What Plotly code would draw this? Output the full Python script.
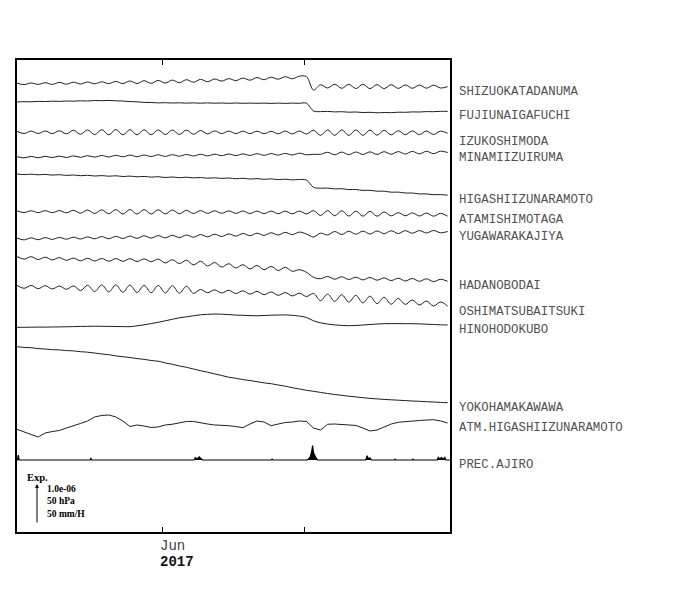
import plotly.graph_objects as go
from datetime import datetime, timedelta

# ---------------- data ----------------
T_START = datetime(2017, 5, 1)
T_END = datetime(2017, 8, 1)
SAMPLE_STEP_DAYS = 1.5          # regular sampling of the traces
N_SAMPLES = 62

STATIONS = ["SHIZUOKATADANUMA", "FUJIUNAIGAFUCHI", "IZUKOSHIMODA", "MINAMIIZUIRUMA",
            "HIGASHIIZUNARAMOTO", "ATAMISHIMOTAGA", "YUGAWARAKAJIYA", "HADANOBODAI",
            "OSHIMATSUBAITSUKI", "HINOHODOKUBO", "YOKOHAMAKAWAWA",
            "ATM.HIGASHIIZUNARAMOTO", "PREC.AJIRO"]

# strain changes, unit = 2.5e-8 (40 units = 1.0e-06)
SHIZUOKATADANUMA = [0.8, -0.6, 1.0, -0.4, 1.3, -0.4, 1.6, -0.2, 1.8, 0.0,
                    2.0, 0.2, 2.2, 0.4, 2.6, 0.4, 3.0, 0.5, 3.3, 0.7,
                    3.6, 0.9, 3.9, 1.3, 4.3, 1.8, 4.6, 2.3, 5.0, 2.9,
                    5.4, 3.4, 5.9, 3.8, 6.4, 4.3, 6.8, 4.8, 7.3, 5.2,
                    7.8, 7.4, -6.0, -0.8, -4.0, -0.3, -4.3, -0.4, -4.5, -0.4,
                    -4.6, -0.6, -4.6, -0.7, -4.4, -0.9, -4.3, -1.0, -4.2, -1.2,
                    -4.0, -2.6]
FUJIUNAIGAFUCHI = [0.0, 0.3, 0.2, 0.6, 0.4, 0.8, 0.6, 1.0, 0.8, 1.2,
                   1.0, 1.5, 1.3, 1.6, 1.2, 1.0, 0.4, 0.2, -0.4, -0.5,
                   -0.9, -0.7, -1.0, -0.8, -1.1, -0.9, -1.2, -0.9, -1.2, -1.0,
                   -1.3, -1.0, -1.3, -1.1, -1.3, -1.1, -1.4, -1.1, -1.4, -1.1,
                   -1.3, -1.2, -9.0, -9.6, -9.4, -9.9, -9.7, -10.2, -10.0, -10.5,
                   -10.3, -10.8, -10.5, -10.7, -10.2, -10.3, -9.9, -10.0, -9.6, -9.7,
                   -9.3, -9.4]
IZUKOSHIMODA = [1.0, -1.2, 1.2, -1.2, 1.3, -1.3, 1.5, -1.5, 2.0, -2.0,
                2.4, -2.3, 2.6, -2.5, 2.8, -2.6, 2.7, -2.6, 2.6, -2.4,
                2.4, -2.3, 2.3, -2.2, 2.2, -2.0, 1.8, -1.6, 1.4, -1.3,
                1.2, -1.3, 1.1, -1.3, 1.1, -1.4, 1.0, -1.5, 1.2, -1.6,
                1.3, -1.7, 2.0, -3.0, 2.4, -3.1, 2.5, -3.2, 2.4, -3.1,
                2.2, -2.9, 2.0, -2.6, 1.6, -2.4, 1.4, -2.3, 1.3, -2.2,
                1.2, -1.0]
MINAMIIZUIRUMA = [0.7, -0.6, 0.9, -0.5, 1.0, -0.3, 1.2, -0.2, 1.4, 0.0,
                  1.6, 0.2, 1.8, 0.3, 2.0, 0.5, 2.2, 0.6, 2.3, 0.8,
                  2.5, 0.9, 2.6, 1.1, 2.8, 1.3, 3.0, 1.4, 3.1, 1.6,
                  3.3, 1.7, 3.4, 1.9, 3.6, 2.0, 3.7, 2.2, 3.9, 2.3,
                  4.1, 2.5, 3.0, 3.0, 5.0, 2.5, 5.2, 2.6, 5.3, 2.8,
                  5.4, 2.9, 5.6, 3.1, 5.7, 3.3, 5.9, 3.4, 6.0, 3.6,
                  6.1, 4.8]
HIGASHIIZUNARAMOTO = [0.3, -0.3, 0.1, -0.5, -0.1, -0.8, -0.4, -1.1, -0.7, -1.4,
                      -1.0, -1.7, -1.3, -1.9, -1.5, -2.2, -1.8, -2.5, -2.1, -2.8,
                      -2.4, -3.2, -2.7, -3.4, -2.9, -3.6, -3.2, -3.9, -3.5, -4.1,
                      -3.7, -4.4, -4.0, -4.7, -4.3, -5.0, -4.6, -5.3, -4.9, -5.6,
                      -5.2, -5.8, -13.0, -13.9, -13.8, -14.6, -14.4, -15.3, -15.2, -16.1,
                      -16.0, -16.9, -16.9, -17.9, -17.8, -18.7, -18.7, -19.6, -19.6, -20.4,
                      -20.3, -20.9]
ATAMISHIMOTAGA = [0.8, -0.8, 0.9, -0.9, 1.0, -1.0, 1.1, -1.1, 1.4, -1.5,
                  1.7, -1.8, 1.9, -2.0, 2.1, -2.3, 2.2, -2.4, 2.1, -2.3,
                  1.9, -2.2, 1.7, -2.0, 1.4, -1.8, 1.1, -1.6, 0.9, -1.6,
                  0.8, -1.7, 0.7, -1.8, 0.6, -1.9, 0.6, -2.0, 0.5, -2.1,
                  0.6, -2.2, 1.1, -3.8, 1.1, -4.1, 1.0, -4.4, 0.6, -4.5,
                  0.3, -4.5, -0.3, -4.2, -1.0, -4.1, -1.2, -4.3, -1.4, -4.5,
                  -1.6, -4.5]
YUGAWARAKAJIYA = [0.9, -0.9, 1.1, -0.7, 1.4, -0.4, 1.6, -0.2, 1.8, 0.0,
                  2.1, 0.2, 2.4, 0.3, 2.6, 0.5, 2.9, 0.7, 3.2, 0.9,
                  3.4, 1.1, 3.7, 1.4, 4.0, 1.8, 4.4, 2.2, 4.8, 2.5,
                  5.1, 2.9, 5.5, 3.3, 5.8, 3.6, 6.2, 4.0, 6.6, 4.4,
                  6.9, 5.0, 2.0, 5.8, 4.0, 7.5, 4.5, 7.8, 4.8, 7.9,
                  5.0, 8.0, 5.3, 8.2, 5.5, 8.3, 5.8, 8.4, 6.0, 8.5,
                  6.2, 7.5]
HADANOBODAI = [1.2, -1.4, 1.0, -1.8, 0.5, -2.2, 0.1, -2.6, -0.4, -3.1,
               -0.6, -3.3, -0.8, -3.5, -0.9, -3.6, -1.0, -3.8, -1.2, -4.0,
               -1.4, -5.3, -2.0, -5.9, -2.6, -7.2, -3.6, -8.3, -4.8, -9.4,
               -6.0, -10.3, -7.0, -11.2, -7.8, -12.0, -8.7, -12.8, -9.6, -13.6,
               -12.0, -14.6, -19.6, -21.0, -18.8, -21.5, -19.1, -21.8, -19.5, -22.2,
               -19.8, -22.5, -20.2, -22.9, -20.5, -23.3, -20.8, -23.6, -21.1, -23.9,
               -21.6, -23.6]
OSHIMATSUBAITSUKI = [1.3, -1.6, 1.2, -2.0, 1.0, -2.3, 0.7, -2.6, 0.8, -3.9,
                     1.5, -4.8, 1.8, -5.2, 1.8, -5.5, 1.6, -5.8, 1.4, -6.0,
                     1.2, -6.3, 0.9, -6.5, 0.4, -6.7, -2.8, -6.0, -3.2, -6.3,
                     -3.5, -6.8, -4.1, -7.4, -4.7, -8.0, -5.3, -8.6, -5.9, -9.2,
                     -6.5, -9.8, -6.8, -13.9, -7.4, -14.6, -8.0, -15.4, -8.7, -16.2,
                     -9.5, -16.9, -10.6, -17.5, -11.8, -17.7, -13.3, -18.3, -14.3, -19.3,
                     -15.3, -19.5]
HINOHODOKUBO = [0.0, 0.0, 0.1, 0.2, 0.2, 0.3, 0.4, 0.5, 0.7, 0.9,
                1.0, 1.1, 1.0, 0.9, 0.8, 0.7, 0.6, 1.5, 2.5, 3.7,
                5.0, 6.5, 8.0, 9.5, 10.5, 11.5, 12.5, 13.0, 13.3, 13.1,
                12.7, 12.2, 12.0, 11.7, 11.5, 11.8, 12.1, 12.3, 12.4, 12.0,
                11.2, 9.8, 6.5, 4.5, 3.2, 2.4, 1.9, 1.6, 1.8, 2.3,
                2.8, 3.3, 3.6, 3.7, 3.7, 3.6, 3.6, 3.4, 3.1, 2.8,
                2.5, 2.3]
YOKOHAMAKAWAWA = [0.0, -0.7, -1.0, -1.9, -2.3, -3.0, -3.2, -3.9, -4.2, -5.0,
                  -5.5, -6.3, -7.3, -8.0, -9.2, -10.0, -10.8, -11.9, -12.6, -13.8,
                  -14.5, -16.2, -17.6, -19.3, -20.6, -22.3, -24.0, -25.5, -27.2, -28.8,
                  -30.5, -31.6, -32.9, -33.8, -35.0, -36.2, -37.0, -38.3, -39.5, -41.0,
                  -42.3, -43.6, -44.6, -45.7, -46.8, -47.8, -48.6, -49.5, -50.2, -51.0,
                  -51.7, -52.2, -52.7, -53.1, -53.5, -53.9, -54.3, -54.6, -55.0, -55.3,
                  -55.7, -56.0]
# atmospheric pressure change, hPa
ATM_HIGASHIIZUNARAMOTO = [0.0, -2.8, -6.5, -9.6, -4.6, -2.8, -1.5, 1.6, 4.1, 7.3,
                          10.4, 15.4, 17.3, 17.9, 15.4, 10.4, 3.5, 5.4, 4.1, 2.3,
                          2.9, 5.4, 6.3, 7.9, 9.8, 9.8, 7.9, 6.6, 5.4, 5.4,
                          4.5, 3.5, 2.0, 6.6, 10.4, 9.1, 4.5, 6.6, 8.5, 9.1,
                          10.4, 9.8, 1.6, -0.9, 6.3, 6.6, 6.3, 6.0, 4.8, 1.6,
                          -2.1, -0.9, 2.9, 6.6, 8.8, 9.8, 10.4, 11.0, 11.6, 12.0,
                          10.4, 7.9]
# precipitation, mm/H (days after 2017-05-01)
PREC_DAYS = [0.1, 0.28, 0.45,
             15.5, 15.7, 15.9,
             37.6, 37.9, 38.3, 38.7, 39.1, 39.4,
             54.0, 54.2, 54.4,
             61.7, 62.0, 62.3, 62.6, 62.8, 63.0, 63.3, 63.6, 63.9,
             74.1, 74.4, 74.7, 75.0, 75.3,
             80.2, 80.3, 80.5,
             84.0, 84.1, 84.3,
             89.3, 89.5, 89.8, 90.2, 90.5, 90.9, 91.1]
PREC_MM = [0, 6.0, 0,
           0, 2.0, 0,
           0, 3.0, 1.5, 4.0, 1.0, 0,
           0, 1.2, 0,
           0, 1.5, 4.0, 10.0, 18.0, 9.0, 5.0, 2.0, 0,
           0, 5.4, 1.0, 2.5, 0,
           0, 1.0, 0,
           0, 1.0, 0,
           0, 3.4, 1.5, 3.0, 1.0, 3.4, 0]

SERIES = [SHIZUOKATADANUMA, FUJIUNAIGAFUCHI, IZUKOSHIMODA, MINAMIIZUIRUMA,
          HIGASHIIZUNARAMOTO, ATAMISHIMOTAGA, YUGAWARAKAJIYA, HADANOBODAI,
          OSHIMATSUBAITSUKI, HINOHODOKUBO, YOKOHAMAKAWAWA, ATM_HIGASHIIZUNARAMOTO]
for s in SERIES:
    assert len(s) == N_SAMPLES, len(s)
assert len(PREC_DAYS) == len(PREC_MM)

# ---------------- layout / scaling ----------------
W, H = 700, 590
PAGE_OFFSET = 8                    # default body margin of the html page
PLOT_L, PLOT_R, PLOT_T, PLOT_B = 17, 450, 60, 532   # wanted frame, in window pixels
PLOT_H = PLOT_B - PLOT_T
SCALE_PX = 40                      # arrow length: 1.0e-06 / 50 hPa / 50 mm/H
PX_PER_UNIT = [1.0] * 11 + [SCALE_PX / 50.0]   # strain units / hPa
PX_PER_MM = SCALE_PX / 50.0
# vertical start positions of the channels (window pixels from the top)
BASE_PX = [84, 102, 132.3, 157.3, 174.3, 211.7, 239, 257.7, 286.7, 327.3, 346.7, 429.3, 460]
LINE_SHAPES = ["spline"] * 11 + ["linear"]
LABEL_SHIFT_PX = [-5, -5, -9, -5, -5, -4, -5, -5, -6, -5, -5, -5, -5]


def base_y(px):
    return PLOT_B - px


times = [T_START + timedelta(days=SAMPLE_STEP_DAYS * i) for i in range(N_SAMPLES)]

fig = go.Figure()
label_y = []
for k, s in enumerate(SERIES):
    y0 = base_y(BASE_PX[k])
    ys = [y0 + v * PX_PER_UNIT[k] for v in s]
    label_y.append(ys[-1])
    fig.add_trace(go.Scatter(x=times, y=ys, mode="lines",
                             line=dict(color="#1e1e1e", width=1, shape=LINE_SHAPES[k],
                                       smoothing=1.0),
                             hoverinfo="skip"))

# precipitation as filled spikes on its baseline
py0 = base_y(BASE_PX[12])
pr_t = [T_START] + [T_START + timedelta(days=d) for d in PREC_DAYS] + [T_END]
pr_y = [py0] + [py0 + m * PX_PER_MM for m in PREC_MM] + [py0]
fig.add_trace(go.Scatter(x=pr_t, y=pr_y, mode="lines", fill="toself",
                         fillcolor="black", line=dict(color="black", width=1.2),
                         hoverinfo="skip"))
label_y.append(py0)

annotations = []
for name, yv, dy in zip(STATIONS, label_y, LABEL_SHIFT_PX):
    annotations.append(dict(x=1, xref="paper", y=yv, yref="y", text=name,
                            showarrow=False, xanchor="left", yanchor="middle",
                            xshift=7, yshift=dy,
                            font=dict(family="Liberation Mono", size=12.4, color="#505050")))

# time axis labels
annotations.append(dict(x="2017-06-01", xref="x", y=0, yref="paper", text="Jun",
                        showarrow=False, xanchor="center", yanchor="middle",
                        xshift=10, yshift=-14,
                        font=dict(family="Liberation Mono", size=14, color="#404040")))
annotations.append(dict(x="2017-06-01", xref="x", y=0, yref="paper", text="<b>2017</b>",
                        showarrow=False, xanchor="center", yanchor="middle",
                        xshift=14, yshift=-30,
                        font=dict(family="Liberation Mono", size=14, color="#111")))

# scale legend
arrow_head_y = base_y(484)
annotations.append(dict(x=0, xref="paper", y=arrow_head_y, yref="y",
                        ax=0, axref="pixel", ay=arrow_head_y - SCALE_PX, ayref="y",
                        xshift=20, text="", showarrow=True, arrowhead=2, arrowsize=0.8,
                        arrowwidth=1, arrowcolor="black"))
annotations.append(dict(x=0, xref="paper", y=base_y(477), yref="y", text="<b>Exp.</b>",
                        showarrow=False, xanchor="left", yanchor="middle", xshift=8,
                        font=dict(family="Liberation Serif", size=10.5, color="black")))
annotations.append(dict(x=0, xref="paper", y=base_y(501), yref="y",
                        text="<b>1.0e-06</b><br><b>50 hPa</b><br><b>50 mm/H</b>",
                        align="left", showarrow=False, xanchor="left", yanchor="middle",
                        xshift=28,
                        font=dict(family="Liberation Serif", size=9.5, color="black")))

fig.update_layout(
    width=W, height=H,
    margin=dict(l=PLOT_L - PAGE_OFFSET, r=W - PLOT_R + PAGE_OFFSET,
                t=PLOT_T - PAGE_OFFSET, b=H - PLOT_B + PAGE_OFFSET, pad=0),
    paper_bgcolor="white", plot_bgcolor="white",
    showlegend=False,
    annotations=annotations,
    xaxis=dict(type="date", range=[T_START, T_END], showgrid=False, zeroline=False,
               showline=True, linecolor="black", linewidth=2, mirror="ticks",
               ticks="inside", ticklen=5, tickwidth=1, tickcolor="black",
               tickvals=["2017-06-01", "2017-07-01"], showticklabels=False),
    yaxis=dict(range=[0, PLOT_H], showgrid=False, zeroline=False, showticklabels=False,
               showline=True, linecolor="black", linewidth=2, mirror=True, ticks=""),
)

fig.write_html("out.html")
